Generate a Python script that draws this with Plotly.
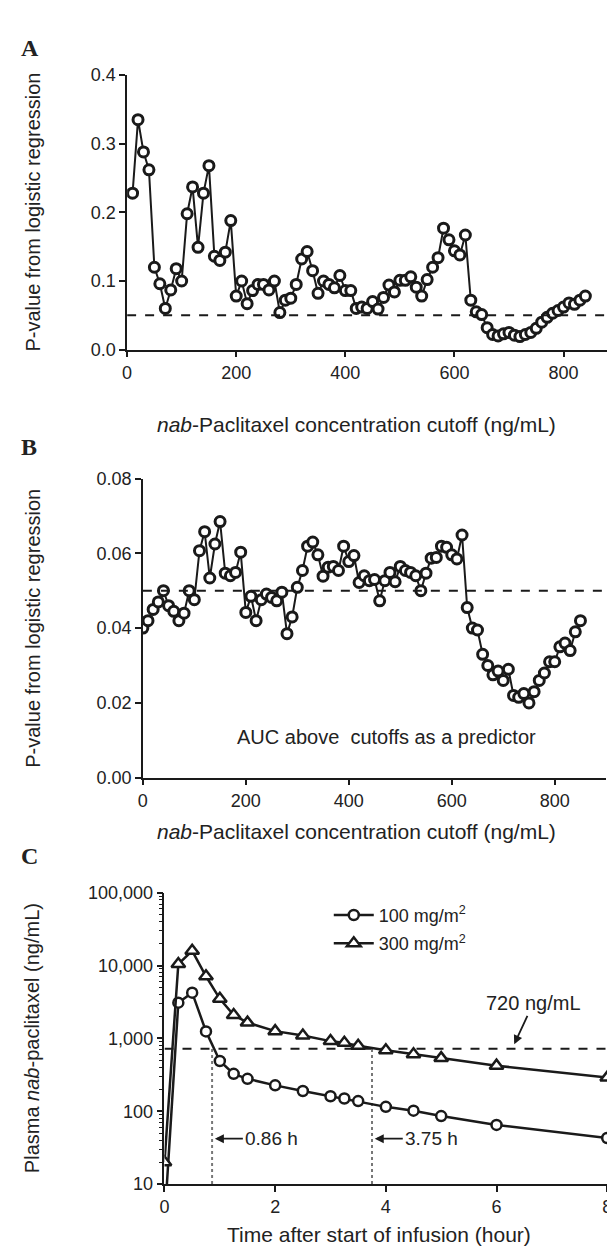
import math
import plotly.graph_objects as go

# ---------------- data ----------------
cutoff_a = [10, 20, 30, 40, 50, 60, 70, 80, 90, 100, 110, 120, 130, 140, 150, 160, 170, 180, 190, 200,
            210, 220, 230, 240, 250, 260, 270, 280, 290, 300, 310, 320, 330, 340, 350, 360, 370, 380, 390, 400,
            410, 420, 430, 440, 450, 460, 470, 480, 490, 500, 510, 520, 530, 540, 550, 560, 570, 580, 590, 600,
            610, 620, 630, 640, 650, 660, 670, 680, 690, 700, 710, 720, 730, 740, 750, 760, 770, 780, 790, 800,
            810, 820, 830, 840]
pval_a = [0.228, 0.335, 0.288, 0.262, 0.120, 0.096, 0.060, 0.087, 0.118, 0.100, 0.198, 0.237, 0.149, 0.228,
          0.268, 0.136, 0.130, 0.142, 0.188, 0.078, 0.100, 0.067, 0.086, 0.095, 0.095, 0.087, 0.100, 0.054,
          0.072, 0.075, 0.095, 0.132, 0.143, 0.115, 0.082, 0.100, 0.095, 0.090, 0.108, 0.086, 0.086, 0.060,
          0.062, 0.060, 0.070, 0.059, 0.076, 0.094, 0.084, 0.101, 0.101, 0.106, 0.091, 0.078, 0.102, 0.120,
          0.134, 0.177, 0.160, 0.144, 0.138, 0.167, 0.072, 0.055, 0.051, 0.032, 0.022, 0.020, 0.023, 0.025,
          0.021, 0.019, 0.022, 0.025, 0.031, 0.040, 0.047, 0.053, 0.057, 0.062, 0.068, 0.066, 0.072, 0.078]

cutoff_b = [0, 10, 20, 30, 40, 50, 60, 70, 80, 90, 100, 110, 120, 130, 140, 150, 160, 170, 180, 190, 200,
            210, 220, 230, 240, 250, 260, 270, 280, 290, 300, 310, 320, 330, 340, 350, 360, 370, 380, 390, 400,
            410, 420, 430, 440, 450, 460, 470, 480, 490, 500, 510, 520, 530, 540, 550, 560, 570, 580, 590, 600,
            610, 620, 630, 640, 650, 660, 670, 680, 690, 700, 710, 720, 730, 740, 750, 760, 770, 780, 790, 800,
            810, 820, 830, 840, 850]
pval_b = [0.040, 0.042, 0.045, 0.047, 0.050, 0.046, 0.0445, 0.042, 0.044, 0.050, 0.0476, 0.0607, 0.0658,
          0.0534, 0.0625, 0.0685, 0.0547, 0.054, 0.0549, 0.0603, 0.0442, 0.0485, 0.042, 0.0476, 0.0491,
          0.0482, 0.0473, 0.0496, 0.0385, 0.043, 0.0509, 0.0554, 0.0619, 0.063, 0.0596, 0.0539, 0.0563,
          0.0565, 0.0554, 0.0619, 0.0578, 0.0594, 0.0522, 0.054, 0.0527, 0.053, 0.0473, 0.0527, 0.0549,
          0.0524, 0.0565, 0.0554, 0.0549, 0.054, 0.050, 0.0547, 0.0587, 0.0589, 0.0619, 0.0616, 0.0596,
          0.0585, 0.0649, 0.0455, 0.040, 0.0395, 0.033, 0.030, 0.0275, 0.0285, 0.026, 0.029, 0.022, 0.0215,
          0.0225, 0.020, 0.023, 0.026, 0.028, 0.031, 0.031, 0.035, 0.036, 0.034, 0.039, 0.042]

time_h = [0, 0.25, 0.5, 0.75, 1, 1.25, 1.5, 2, 2.5, 3, 3.25, 3.5, 4, 4.5, 5, 6, 8]
conc_100 = [3, 3100, 4250, 1250, 490, 327, 279, 227, 190, 161, 150, 138, 115, 102, 86, 65, 43]
conc_300 = [20, 10500, 16000, 7150, 3500, 2100, 1650, 1260, 1100, 920, 870, 795, 690, 608, 537, 423, 290]
series_names = ["100 mg/m<sup>2</sup>", "300 mg/m<sup>2</sup>"]

p_threshold = 0.05
conc_threshold = 720
threshold_times = [0.86, 3.75]

# ---------------- layout helpers ----------------
W, H = 615, 1254
def xp(px):
    return px / W
def yp(py):
    return 1 - py / H

FONT = "Liberation Sans, Arial, sans-serif"
SERIF = "Liberation Serif, Times New Roman, serif"
INK = "#1a1a1a"
TXT = "#222222"

fig = go.Figure()

mk_circle = dict(symbol="circle", size=10, color="white", line=dict(color=INK, width=3))

fig.add_trace(go.Scatter(x=cutoff_a, y=pval_a, mode="lines+markers", line=dict(color=INK, width=2),
                         marker=mk_circle, xaxis="x", yaxis="y", showlegend=False))
fig.add_trace(go.Scatter(x=[0, 880], y=[p_threshold, p_threshold], mode="lines",
                         line=dict(color=INK, width=2, dash="dash"), xaxis="x", yaxis="y",
                         showlegend=False, hoverinfo="skip"))

fig.add_trace(go.Scatter(x=cutoff_b, y=pval_b, mode="lines+markers", line=dict(color=INK, width=2),
                         marker=mk_circle, xaxis="x2", yaxis="y2", showlegend=False))
fig.add_trace(go.Scatter(x=[0, 900], y=[p_threshold, p_threshold], mode="lines",
                         line=dict(color=INK, width=2, dash="dash"), xaxis="x2", yaxis="y2",
                         showlegend=False, hoverinfo="skip"))

# panel C
fig.add_trace(go.Scatter(x=[0, 8], y=[conc_threshold, conc_threshold], mode="lines",
                         line=dict(color=INK, width=2, dash="dash"), xaxis="x3", yaxis="y3",
                         showlegend=False, hoverinfo="skip"))
for t in threshold_times:
    fig.add_trace(go.Scatter(x=[t, t], y=[10, conc_threshold], mode="lines",
                             line=dict(color="#777777", width=2, dash="dot"), xaxis="x3", yaxis="y3",
                             showlegend=False, hoverinfo="skip"))
fig.add_trace(go.Scatter(x=time_h, y=conc_100, mode="lines+markers", name=series_names[0],
                         line=dict(color=INK, width=2.5),
                         marker=dict(symbol="circle", size=10, color="white", line=dict(color=INK, width=2.5)),
                         xaxis="x3", yaxis="y3", legendgroup="a"))
fig.add_trace(go.Scatter(x=time_h, y=conc_300, mode="lines+markers", name=series_names[1],
                         line=dict(color=INK, width=2.5),
                         marker=dict(symbol="triangle-up", size=12, color="white", line=dict(color=INK, width=2.5)),
                         xaxis="x3", yaxis="y3", legendgroup="b"))

axis_common = dict(showline=True, linecolor=INK, linewidth=1.5, ticks="outside", ticklen=6,
                   tickwidth=1.5, tickcolor=INK, showgrid=False, zeroline=False,
                   tickfont=dict(family=FONT, size=18, color=TXT))

fig.update_layout(
    width=W, height=H, margin=dict(l=0, r=0, t=0, b=0),
    paper_bgcolor="white", plot_bgcolor="white",
    showlegend=True,
    legend=dict(x=xp(321), y=yp(893), xanchor="left", yanchor="top", bgcolor="rgba(0,0,0,0)",
                font=dict(family=FONT, size=18, color=TXT), tracegroupgap=2, itemwidth=40,
                traceorder="grouped"),
    xaxis=dict(domain=[xp(116), xp(604)], range=[0, 880], anchor="y", tickvals=[0, 200, 400, 600, 800],
               **axis_common),
    yaxis=dict(domain=[yp(337), yp(58)], range=[0, 0.4], anchor="x", tickvals=[0, 0.1, 0.2, 0.3, 0.4],
               tickformat=".1f", **axis_common),
    xaxis2=dict(domain=[xp(132), xp(603)], range=[0, 900], anchor="y2", tickvals=[0, 200, 400, 600, 800],
                **axis_common),
    yaxis2=dict(domain=[yp(772), yp(468)], range=[0, 0.08], anchor="x2",
                tickvals=[0, 0.02, 0.04, 0.06, 0.08], tickformat=".2f", **axis_common),
    xaxis3=dict(domain=[xp(154), xp(604)], range=[0, 8], anchor="y3", tickvals=[0, 2, 4, 6, 8],
                **axis_common),
    yaxis3=dict(domain=[yp(1185), yp(889)], type="log", range=[1, 5], anchor="x3",
                tickvals=[10, 100, 1000, 10000, 100000],
                ticktext=["10", "100", "1,000", "10,000", "100,000"],
                minor=dict(ticks="outside", ticklen=4, tickwidth=1.2, tickcolor=INK,
                           tickvals=[k * 10 ** d for d in range(1, 5) for k in range(2, 10)]),
                **axis_common),
)

ann = []
def text(x, y, s, size=20, angle=0, family=FONT, xanchor="center", yanchor="middle"):
    ann.append(dict(x=x, y=y, xref="paper", yref="paper", text=s, showarrow=False, textangle=angle,
                    xanchor=xanchor, yanchor=yanchor,
                    font=dict(family=family, size=size, color=TXT)))

text(xp(6), yp(30), "<b>A</b>", size=24, family=SERIF, xanchor="left")
text(xp(6), yp(436), "<b>B</b>", size=24, family=SERIF, xanchor="left")
text(xp(6), yp(852), "<b>C</b>", size=24, family=SERIF, xanchor="left")

text(xp(20), yp(197), "P-value from logistic regression", angle=-90)
text(xp(20), yp(620), "P-value from logistic regression", angle=-90)
text(xp(20), yp(1037), "Plasma <i>nab</i>-paclitaxel (ng/mL)", angle=-90)

text(xp(349), yp(413), "<i>nab</i>-Paclitaxel concentration cutoff (ng/mL)", size=21)
text(xp(349), yp(827), "<i>nab</i>-Paclitaxel concentration cutoff (ng/mL)", size=21)
text(xp(372), yp(1236), "Time after start of infusion (hour)", size=21)

ann.append(dict(x=474, y=0.011, xref="x2", yref="y2", text="AUC above  cutoffs as a predictor",
                showarrow=False, font=dict(family=FONT, size=20, color=TXT)))

for t in threshold_times:
    ann.append(dict(x=t + 0.05, y=math.log10(42), xref="x3", yref="y3", text=f"{t:.2f} h",
                    showarrow=True, arrowhead=2, arrowsize=1, arrowwidth=1.8, arrowcolor=INK,
                    ax=28, ay=0, xanchor="left", font=dict(family=FONT, size=19, color=TXT)))
ann.append(dict(x=6.32, y=math.log10(830), xref="x3", yref="y3", text="720 ng/mL",
                showarrow=True, arrowhead=2, arrowsize=1, arrowwidth=1.8, arrowcolor=INK,
                ax=19, ay=-41, font=dict(family=FONT, size=20, color=TXT)))

fig.update_layout(annotations=ann)
fig.write_html("out.html")
